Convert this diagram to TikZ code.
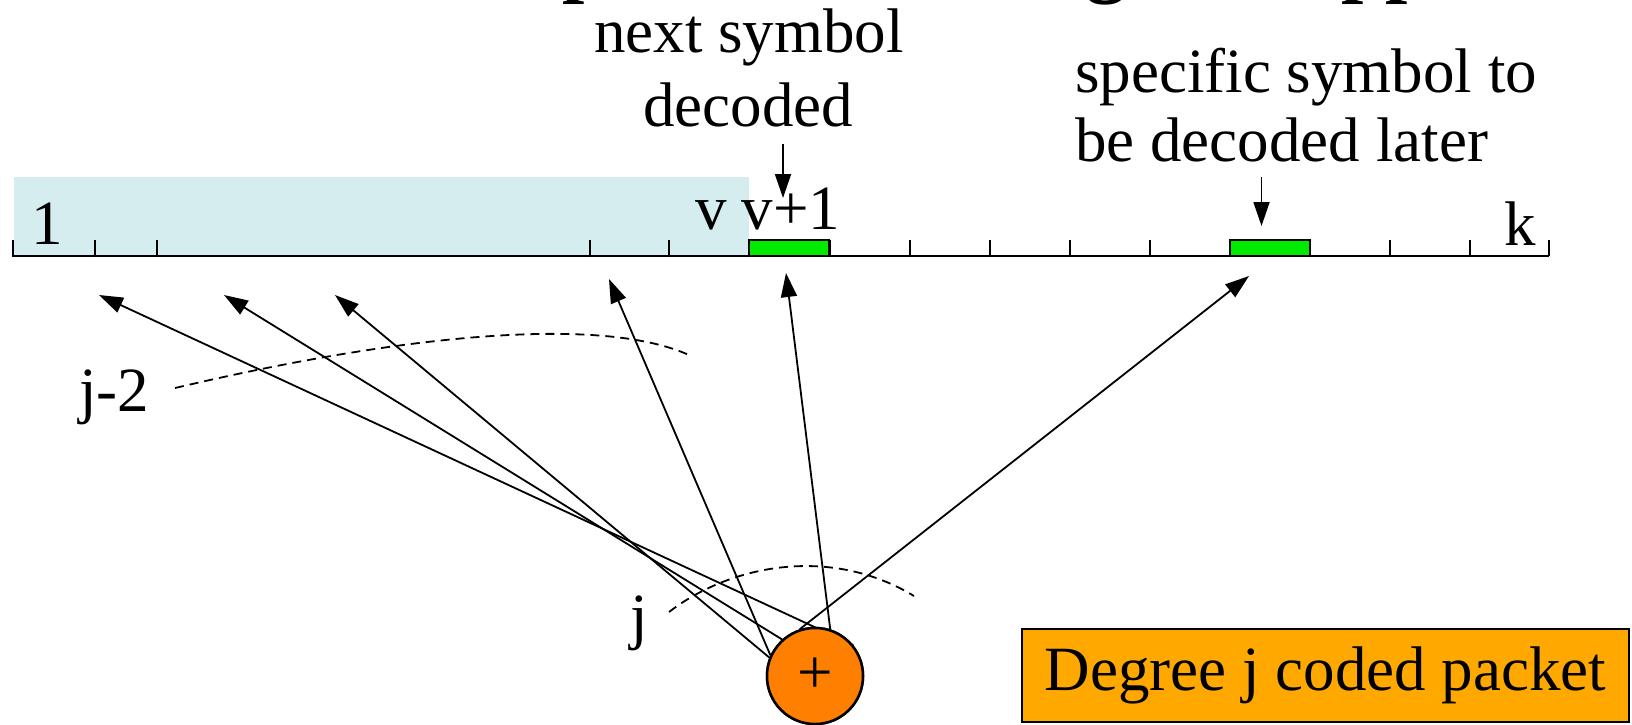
\documentclass[tikz,border=0pt]{standalone}
\usepackage{fontspec}
\setmainfont{Liberation Serif}
\usetikzlibrary{arrows.meta}
\definecolor{shadecol}{RGB}{214,237,240}
\definecolor{symgreen}{RGB}{0,235,0}
\definecolor{boxorange}{RGB}{255,168,0}
\definecolor{circorange}{RGB}{255,128,0}
\begin{document}
\begin{tikzpicture}[x=1pt,y=-1pt,
  font=\fontsize{63}{73}\selectfont,
  txt/.style={inner sep=0pt, anchor=base},
  txtl/.style={inner sep=0pt, anchor=base west},
  ttl/.style={inner sep=0pt, anchor=base west, font=\fontsize{80}{90}\selectfont\bfseries},
  conn/.style={line width=1.8pt, -{Triangle[length=24pt,width=16pt]}},
  lblarrow/.style={line width=1.8pt, -{Triangle[length=24pt,width=16pt]}},
  greenbox/.style={draw, line width=2pt, fill=symgreen, minimum width=80pt, minimum height=16pt, inner sep=0pt},
  tickline/.style={line width=2pt},
  dashcurve/.style={line width=1.8pt, dash pattern=on 9pt off 6pt}]
\useasboundingbox (0,0) rectangle (1632,724);
% cut-off title fragments
\begin{scope}
\clip (0,0) rectangle (1632,724);
\node[ttl] (ttlA) at (562,-13) {p};
\node[ttl] (ttlB) at (1086,-13) {g};
\node[ttl] (ttlC) at (1341,-13) {pp};
\end{scope}
% decoded region
\fill[shadecol] (14,177) rectangle (749,256);
% axis
\draw[line width=2.5pt] (12,256) -- (1549,256);
\foreach \t in {12.5,94.7,157.2,590,669,749,829.5,909.6,989.8,1070,1150,1231,1309,1389.5,1469.6,1548.7}
  \draw[tickline] (\t,256) -- (\t,240);
\node[greenbox] (gA) at (789.2,248) {};
\node[greenbox] (gB) at (1270,248) {};
% axis labels
\node[txt] (lone) at (47,244) {1};
\node[txt] (lv) at (711,229) {v};
\node[txt] (lvp) at (791,229) {v+1};
\node[txt] (lk) at (1520,245) {k};
% top labels
\node[txt] (nextA) at (749,52) {next symbol};
\node[txt] (nextB) at (748,126) {decoded};
\node[txtl] (specA) at (1075,92) {specific symbol to};
\node[txtl] (specB) at (1075,161) {be decoded later};
\coordinate (aNs) at (783,144);
\coordinate (aNe) at (783,198);
\coordinate (aSs) at (1261.5,177);
\coordinate (aSe) at (1261.5,226);
\draw[lblarrow] (aNs) -- (aNe);
\draw[lblarrow] (aSs) -- (aSe);
% tips on the axis side
\coordinate (tA) at (99,295);
\coordinate (tB) at (224,295);
\coordinate (tC) at (335,295);
\coordinate (tD) at (609,279);
\coordinate (tE) at (786,273);
\coordinate (tF) at (1249,276);
% circle
\node[circle, draw, line width=2.5pt, fill=circorange, minimum size=96pt, inner sep=0pt] (plus) at (815,676) {};
\draw[conn] (plus.39.5) -- (tA);
\draw[conn] (plus.132.6) -- (tB);
\draw[conn] (plus.158) -- (tC);
\draw[conn] (plus.155) -- (tD);
\draw[conn] (plus.72.6) -- (tE);
\draw[conn] (plus.108) -- (tF);
\node[circle, draw, line width=2.5pt, fill=circorange, minimum size=96pt, inner sep=0pt] (plustop) at (plus.center) {+};
% dashed curves
\draw[dashcurve] (175,388) .. controls (400,335) and (600,315) .. (689,355);
\draw[dashcurve] (669,612) .. controls (730,565) and (830,545) .. (914,596);
\node[txt] (lj2) at (114,411) {j-2};
\node[txt] (lj) at (639,637) {j};
% packet box
\node[draw, line width=2pt, fill=boxorange, minimum width=607pt, minimum height=93pt, inner sep=0pt] (pkt) at (1325.5,675) {Degree j coded packet};
\end{tikzpicture}
\end{document}
